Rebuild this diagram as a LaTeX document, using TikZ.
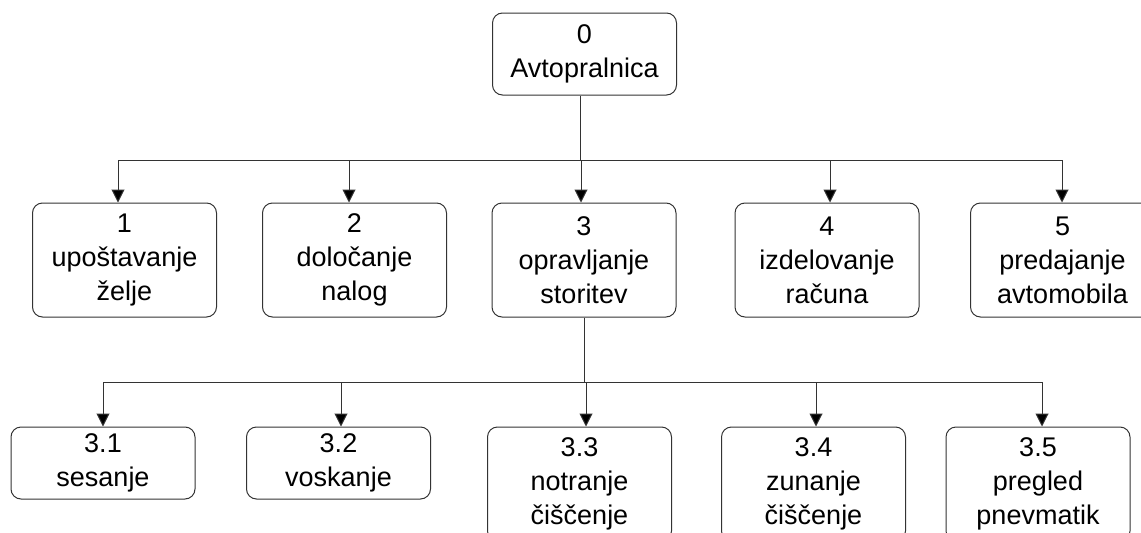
\documentclass[tikz,border=0pt]{standalone}
\usepackage{fontspec}
\setmainfont{Liberation Sans}
\usetikzlibrary{positioning,arrows.meta}
\definecolor{edge}{HTML}{333333}
\tikzset{
  task/.style={draw=edge, line width=1pt, rounded corners=10pt, align=center, inner sep=2pt,
    minimum width=184pt, minimum height=114pt, font=\fontsize{27}{34}\selectfont,
    execute at begin node={\rule{0pt}{29pt}}},
  short/.style={task, minimum height=72pt},
  link/.style={draw=edge, line width=1pt},
  arrow/.style={link, -{Triangle[width=13pt,length=13pt,fill=black]}}
}

\begin{document}
\begin{tikzpicture}[x=1pt, y=-1pt]
  \useasboundingbox (0,0) rectangle (1141,533);

  % root
  \node[task, minimum height=82pt, execute at begin node={}] (root) at (584.5,54) {0\\Avtopralnica};

  % first level
  \node[task] (b1) at (124.5,260) {1\\upoštavanje\\želje};
  \node[task] (b2) at (354.5,260) {2\\določanje\\nalog};
  \node[task] (b3) at (584,260) {3\\opravljanje\\storitev};
  \node[task] (b4) at (827,260) {4\\izdelovanje\\računa};
  \node[task] (b5) at (1062.5,260) {5\\predajanje\\avtomobila};

  % second level
  \node[short] (s1) at (103,463) {3.1\\sesanje};
  \node[short] (s2) at (338.5,463) {3.2\\voskanje};
  \node[task] (s3) at (579.5,484) {3.3\\notranje\\čiščenje};
  \node[task] (s4) at (813.5,484) {3.4\\zunanje\\čiščenje};
  \node[task] (s5) at (1038,484) {3.5\\pregled\\pnevmatik};

  % connectors
  \coordinate (bus1) at (0,160);
  \coordinate (bus2) at (0,382);
  \path ([xshift=-4.5pt]root.south) coordinate (r0);
  \draw[link] (r0) -- (r0 |- bus1);
  \path ([xshift=-6.5pt]b1.north) coordinate (l1);
  \path ([xshift=-0.5pt]b5.north) coordinate (r1);
  \draw[link] (l1 |- bus1) -- (r1 |- bus1);
  \foreach \n/\d in {b1/-6.5, b2/-5.5, b3/-3, b4/3, b5/-0.5}{
    \path ([xshift=\d pt]\n.north) coordinate (tip);
    \draw[arrow] (tip |- bus1) -- (tip);
  }

  \draw[link] (b3.south) -- (b3.south |- bus2);
  \path ([xshift=4pt]s5.north) coordinate (r2);
  \draw[link] (s1.north |- bus2) -- (r2 |- bus2);
  \foreach \n/\d in {s1/0, s2/2.5, s3/6.5, s4/2.5, s5/4}{
    \path ([xshift=\d pt]\n.north) coordinate (tip);
    \draw[arrow] (tip |- bus2) -- (tip);
  }
\end{tikzpicture}
\end{document}
